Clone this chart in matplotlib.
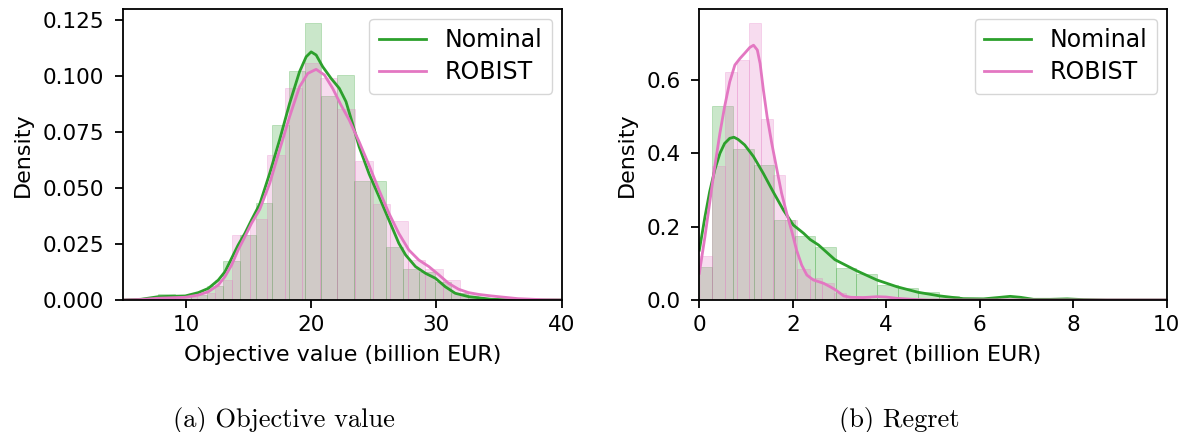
import matplotlib
matplotlib.use("Agg")
import matplotlib.pyplot as plt
import numpy as np

# --- objective value (billion EUR) ---
obj_nom_edges = [7.8, 9.1, 10.4, 11.7, 13.0, 14.3, 15.6, 16.9, 18.2, 19.5, 20.8,
                 22.1, 23.4, 24.7, 26.0, 27.3, 28.6, 29.9, 31.2, 32.5, 33.8]
obj_nom_dens = [0.0025, 0.0015, 0.002, 0.0062, 0.0174, 0.029, 0.0434, 0.078, 0.102, 0.1237,
                0.091, 0.1004, 0.053, 0.053, 0.0238, 0.0138, 0.0126, 0.008, 0.003, 0.001]
obj_rob_edges = [8.1, 9.5, 10.9, 12.3, 13.7, 15.1, 16.5, 17.9, 19.3, 20.7, 22.1,
                 23.5, 24.9, 26.3, 27.7, 29.1, 30.5, 31.9, 33.3, 34.7, 36.1]
obj_rob_dens = [0.001, 0.0015, 0.003, 0.009, 0.029, 0.036, 0.0647, 0.0947, 0.1056, 0.0989,
                0.0852, 0.062, 0.043, 0.0352, 0.018, 0.0137, 0.0089, 0.003, 0.001, 0.0005]

# kernel density curves
obj_nom_kx = [5.0, 6.4, 7.83, 9.95, 11.0, 11.8, 12.59, 13.12, 13.65, 14.17, 14.71, 15.24,
              15.9, 16.69, 17.48, 18.28, 19.07, 19.6, 20.0, 20.4, 20.92, 21.59, 22.25,
              22.78, 23.3, 23.83, 24.63, 25.42, 26.21, 27.0, 27.54, 28.33, 29.13, 29.92,
              30.71, 31.5, 32.56, 33.36, 34.4, 36.5, 40.0]
obj_nom_ky = [0.0, 0.0003, 0.0015, 0.0018, 0.0033, 0.0052, 0.0089, 0.0126, 0.0186, 0.0245,
              0.0297, 0.0357, 0.0428, 0.0565, 0.0714, 0.0877, 0.1018, 0.1085, 0.1107,
              0.1093, 0.1041, 0.0989, 0.0944, 0.0885, 0.0788, 0.0684, 0.0562, 0.0461,
              0.0357, 0.0253, 0.0201, 0.0149, 0.0119, 0.0097, 0.0059, 0.003, 0.0015, 0.001,
              0.0003, 0.0, 0.0]
obj_rob_kx = [5.0, 6.4, 7.83, 9.95, 11.0, 11.8, 12.59, 13.12, 13.65, 14.17, 14.71, 15.24,
              15.9, 16.69, 17.48, 18.28, 19.07, 19.73, 20.4, 21.06, 21.72, 22.38, 23.04,
              23.83, 24.63, 25.42, 26.21, 27.0, 27.8, 28.6, 29.4, 30.2, 30.98, 31.77,
              32.56, 33.36, 34.4, 36.5, 38.6, 40.0]
obj_rob_ky = [0.0, 0.0002, 0.0008, 0.0012, 0.0022, 0.0037, 0.0067, 0.0104, 0.0156, 0.0223,
              0.0282, 0.0342, 0.0405, 0.052, 0.0669, 0.0818, 0.0951, 0.1011, 0.1029,
              0.1004, 0.0944, 0.087, 0.0803, 0.0706, 0.06, 0.049, 0.0387, 0.0297, 0.0223,
              0.0178, 0.0149, 0.0112, 0.0074, 0.0048, 0.0033, 0.0025, 0.0018, 0.0006,
              0.0001, 0.0]

# --- regret (billion EUR) ---
reg_nom_edges = [-0.16, 0.28, 0.72, 1.16, 1.60, 2.04, 2.48, 2.92, 3.36, 3.80, 4.24,
                 4.68, 5.12, 5.56, 6.00, 6.44, 6.88, 7.32, 7.76, 8.20]
reg_nom_dens = [0.091, 0.529, 0.411, 0.368, 0.218, 0.1745, 0.1436, 0.088, 0.070, 0.041,
                0.0336, 0.0227, 0.010, 0.003, 0.002, 0.012, 0.002, 0.001, 0.002]
reg_rob_edges = [0.02, 0.28, 0.54, 0.80, 1.06, 1.32, 1.58, 1.84, 2.10, 2.36, 2.62,
                 2.88, 3.14, 3.40, 3.66]
reg_rob_dens = [0.12, 0.366, 0.623, 0.654, 0.756, 0.494, 0.341, 0.218, 0.0836, 0.06,
                0.045, 0.02, 0.01, 0.01]

reg_nom_kx = [0.0, 0.12, 0.22, 0.33, 0.44, 0.54, 0.65, 0.74, 0.83, 0.97, 1.16, 1.37, 1.58,
              1.8, 2.01, 2.23, 2.37, 2.55, 2.9, 3.36, 3.8, 4.23, 4.68, 5.15, 5.65, 6.08,
              6.44, 6.65, 6.87, 7.15, 7.51, 7.87, 8.22, 8.72, 10.0]
reg_nom_ky = [0.136, 0.227, 0.295, 0.355, 0.40, 0.427, 0.441, 0.444, 0.438, 0.423, 0.391,
              0.345, 0.295, 0.245, 0.2045, 0.182, 0.165, 0.15, 0.11, 0.08, 0.0545, 0.036,
              0.021, 0.011, 0.0036, 0.003, 0.0073, 0.0099, 0.0073, 0.0018, 0.0018, 0.003,
              0.001, 0.0, 0.0]
reg_rob_kx = [0.0, 0.12, 0.22, 0.33, 0.44, 0.54, 0.65, 0.76, 0.87, 0.97, 1.08, 1.16, 1.24,
              1.30, 1.37, 1.45, 1.55, 1.66, 1.76, 1.87, 1.98, 2.08, 2.19, 2.3, 2.44, 2.55,
              2.66, 2.8, 2.92, 3.09, 3.24, 3.5, 3.8, 4.0, 4.23, 4.52, 4.9, 10.0]
reg_rob_ky = [0.073, 0.173, 0.264, 0.364, 0.455, 0.527, 0.595, 0.641, 0.659, 0.673, 0.689,
              0.695, 0.682, 0.645, 0.573, 0.50, 0.427, 0.355, 0.291, 0.236, 0.186, 0.136,
              0.095, 0.068, 0.0545, 0.05, 0.0455, 0.036, 0.027, 0.011, 0.0073, 0.0065,
              0.009, 0.008, 0.0045, 0.002, 0.0, 0.0]

labels = ["Nominal", "ROBIST"]
colors = ["tab:green", "tab:pink"]


def draw_hist(ax, edges, dens, color):
    edges = np.asarray(edges)
    ax.bar(edges[:-1], dens, width=np.diff(edges), align="edge",
           color=color, alpha=0.25, edgecolor=color, linewidth=0.7)


plt.rcParams.update({
    "font.family": "DejaVu Sans",
    "font.size": 15.5,
    "axes.linewidth": 1.3,
    "xtick.major.size": 5.6,
    "ytick.major.size": 5.6,
    "xtick.major.width": 1.3,
    "ytick.major.width": 1.3,
    "xtick.major.pad": 5.5,
    "ytick.major.pad": 8.0,
    "axes.labelpad": 7.0,
    "legend.fontsize": 17,
    "legend.labelspacing": 0.35,
    "legend.borderaxespad": 0.4,
})

fig = plt.figure(figsize=(11.92, 4.32), dpi=100)
ax1 = fig.add_axes([0.1034, 0.3056, 0.3678, 0.6729])
ax2 = fig.add_axes([0.5867, 0.3056, 0.3921, 0.6729])

draw_hist(ax1, obj_nom_edges, obj_nom_dens, colors[0])
draw_hist(ax1, obj_rob_edges, obj_rob_dens, colors[1])
ax1.plot(obj_nom_kx, obj_nom_ky, color=colors[0], lw=2.0, label=labels[0])
ax1.plot(obj_rob_kx, obj_rob_ky, color=colors[1], lw=2.0, label=labels[1])
ax1.set_xlim(5, 40)
ax1.set_ylim(0, 0.1297)
ax1.set_xticks([10, 20, 30, 40])
ax1.set_yticks([0, 0.025, 0.05, 0.075, 0.1, 0.125])
ax1.set_xlabel("Objective value (billion EUR)", fontsize=16)
ax1.set_ylabel("Density", fontsize=16)
ax1.legend(loc="upper right")

draw_hist(ax2, reg_nom_edges, reg_nom_dens, colors[0])
draw_hist(ax2, reg_rob_edges, reg_rob_dens, colors[1])
ax2.plot(reg_nom_kx, reg_nom_ky, color=colors[0], lw=2.0, label=labels[0])
ax2.plot(reg_rob_kx, reg_rob_ky, color=colors[1], lw=2.0, label=labels[1])
ax2.set_xlim(0, 10)
ax2.set_ylim(0, 0.793)
ax2.set_xticks([0, 2, 4, 6, 8, 10])
ax2.set_yticks([0, 0.2, 0.4, 0.6])
ax2.set_xlabel("Regret (billion EUR)", fontsize=16)
ax2.set_ylabel("Density", fontsize=16)
ax2.legend(loc="upper right")

# subfigure captions
fig.text(284 / 1192, 1 - 420 / 432, "(a) Objective value", family="cmr10",
         fontsize=19, ha="center", va="center")
fig.text(899 / 1192, 1 - 420 / 432, "(b) Regret", family="cmr10",
         fontsize=19, ha="center", va="center")

fig.savefig("out.png", dpi=100)
